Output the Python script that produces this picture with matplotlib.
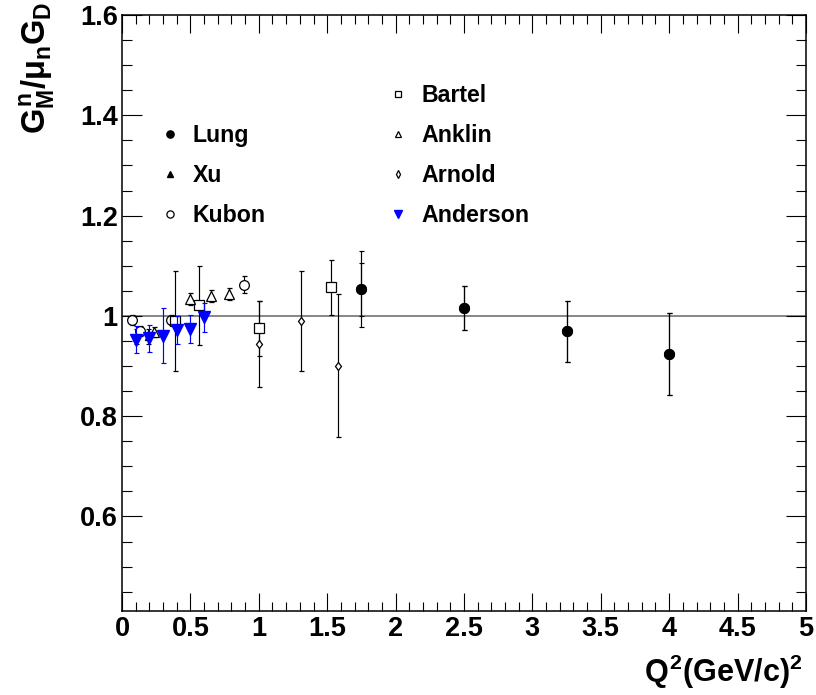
import matplotlib
matplotlib.use("Agg")
import matplotlib.pyplot as plt
from matplotlib.ticker import MultipleLocator, FuncFormatter
from matplotlib.lines import Line2D

plt.rcParams['font.family'] = ['Liberation Sans', 'DejaVu Sans']
plt.rcParams['font.weight'] = 'bold'
plt.rcParams['mathtext.fontset'] = 'custom'
plt.rcParams['mathtext.rm'] = 'Liberation Sans:bold'
plt.rcParams['mathtext.it'] = 'Liberation Sans:bold'
plt.rcParams['mathtext.bf'] = 'Liberation Sans:bold'

# ---- data ----
lung_x = [1.75, 2.5, 3.25, 4.0]
lung_y = [1.053, 1.015, 0.969, 0.924]
lung_err_stat = [0.053, 0.044, 0.061, 0.081]
lung_err_tot = [0.076, 0.044, 0.061, 0.081]

xu_x = [0.1, 0.193]
xu_y = [0.958, 0.958]
xu_err = [0.015, 0.015]

kubon_x = [0.071, 0.134, 0.36, 0.892]
kubon_y = [0.992, 0.970, 0.992, 1.062]
kubon_err = [0.010, 0.010, 0.010, 0.017]

bartel_x = [0.39, 0.565, 1.0, 1.53]
bartel_y = [0.990, 1.021, 0.975, 1.057]
bartel_err = [0.100, 0.079, 0.055, 0.055]

anklin_x = [0.232, 0.497, 0.65, 0.785]
anklin_y = [0.967, 1.033, 1.040, 1.043]
anklin_err = [0.010, 0.012, 0.012, 0.012]

arnold_x = [1.0, 1.31, 1.577]
arnold_y = [0.944, 0.990, 0.901]
arnold_err = [0.085, 0.100, 0.143]

anderson_x = [0.1, 0.2, 0.3, 0.4, 0.5, 0.6]
anderson_y = [0.952, 0.955, 0.960, 0.972, 0.973, 0.997]
anderson_err = [0.027, 0.027, 0.055, 0.028, 0.028, 0.029]

x_range = (0, 5)
y_range = (0.412, 1.6)
ref_level = 1.0

# ---- figure ----
fig = plt.figure(figsize=(8.16, 6.95), dpi=100)
ax = fig.add_axes([0.1495, 0.1213, 0.8382, 0.8571])

ax.axhline(ref_level, color='#666666', lw=1.1, zorder=1)

eb = dict(ls='none', capsize=1.8, elinewidth=0.85, capthick=0.85, zorder=3)

ax.errorbar(lung_x, lung_y, yerr=lung_err_tot, color='black', fmt='o', ms=7, **eb)
ax.errorbar(lung_x, lung_y, yerr=lung_err_stat, color='black', fmt='o', ms=7, **eb)
ax.errorbar(xu_x, xu_y, yerr=xu_err, color='black', fmt='^', ms=5, **eb)
ax.errorbar(kubon_x, kubon_y, yerr=kubon_err, color='black', fmt='o', ms=7,
            mfc='white', mew=0.9, **eb)
ax.errorbar(bartel_x, bartel_y, yerr=bartel_err, color='black', fmt='s', ms=7,
            mfc='white', mew=0.9, **eb)
ax.errorbar(anklin_x, anklin_y, yerr=anklin_err, color='black', fmt='^', ms=7,
            mfc='white', mew=0.9, **eb)
ax.errorbar(arnold_x, arnold_y, yerr=arnold_err, color='black', fmt='d', ms=4.4,
            mfc='white', mew=0.9, **eb)
ax.errorbar(anderson_x, anderson_y, yerr=anderson_err, color='#0000ff', fmt='v', ms=8.6,
            **dict(eb, zorder=4))

ax.set_xlim(*x_range)
ax.set_ylim(*y_range)

ax.xaxis.set_major_locator(MultipleLocator(0.5))
ax.xaxis.set_minor_locator(MultipleLocator(0.1))
ax.yaxis.set_major_locator(MultipleLocator(0.2))
ax.yaxis.set_minor_locator(MultipleLocator(0.05))
fmt = FuncFormatter(lambda v, p: f'{v:g}')
ax.xaxis.set_major_formatter(fmt)
ax.yaxis.set_major_formatter(fmt)

ax.tick_params(which='both', direction='in', top=True, right=True, width=0.8)
ax.tick_params(axis='x', which='major', length=13, pad=4, labelsize=19.5)
ax.tick_params(axis='x', which='minor', length=6.5)
ax.tick_params(axis='y', which='major', length=14.4, pad=3, labelsize=19.5)
ax.tick_params(axis='y', which='minor', length=7.2)
for lab in ax.get_xticklabels() + ax.get_yticklabels():
    lab.set_fontweight('bold')
for s in ax.spines.values():
    s.set_linewidth(1.1)

fig.text(0.046, 0.997, r'$G^{n}_{M}/\mu_{n}G_{D}$', rotation=90, ha='center', va='top',
         fontsize=23.5)
fig.text(0.984, 0.033, r'$Q^{2}(GeV/c)^{2}$', ha='right', va='center', fontsize=22)

# ---- legend ----
blank = Line2D([], [], ls='none', marker='none')
h = [blank,
     Line2D([], [], ls='none', marker='o', color='black', ms=5.2),
     Line2D([], [], ls='none', marker='^', color='black', ms=5),
     Line2D([], [], ls='none', marker='o', color='black', mfc='white', ms=5.2, mew=0.9),
     Line2D([], [], ls='none', marker='s', color='black', mfc='white', ms=5, mew=0.9),
     Line2D([], [], ls='none', marker='^', color='black', mfc='white', ms=5, mew=0.9),
     Line2D([], [], ls='none', marker='d', color='black', mfc='white', ms=4, mew=0.9),
     Line2D([], [], ls='none', marker='v', color='#0000ff', ms=5.2)]
labels = [' ', 'Lung', 'Xu', 'Kubon', 'Bartel', 'Anklin', 'Arnold', 'Anderson']
ax.legend(h, labels, ncol=2, loc='upper left', bbox_to_anchor=(0.057, 0.884),
          frameon=False, borderpad=0, borderaxespad=0, handlelength=0.75,
          handletextpad=0.62, labelspacing=0.735, columnspacing=5.33,
          prop=dict(family='Liberation Sans', weight='bold', size=16.7))

fig.savefig('out.png', dpi=100)
